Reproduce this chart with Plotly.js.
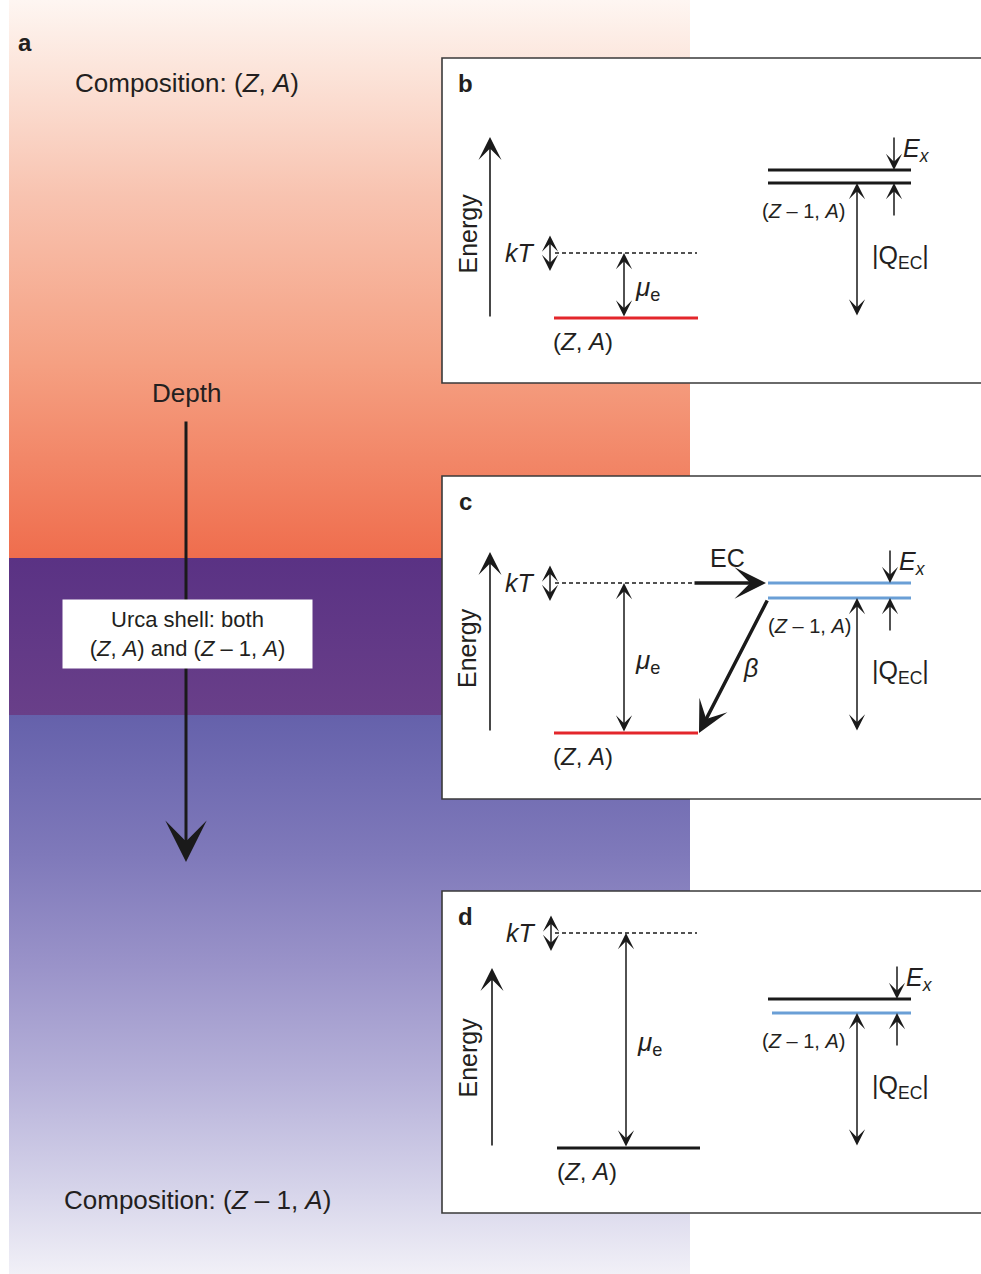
<!DOCTYPE html>
<html>
<head>
<meta charset="utf-8">
<script src="https://cdn.plot.ly/plotly-3.0.1.min.js"></script>
<style>html,body{margin:0;padding:0;background:#fff;}#chart{width:981px;height:1274px;}</style>
</head>
<body>
<div id="chart"></div>
<script>
// ---------- data (pixel-space diagram coordinates) ----------
// Left column: depth bands (top, bottom) and their gradient colours
const bandTop = [0, 558, 715];
const bandBottom = [558, 715, 1274];
const bandColors = [
  [[0, '#fef6f2'], [0.12, '#fce5db'], [0.35, '#f8c3b0'], [0.65, '#f5a082'], [1, '#ef6d4d']],
  [[0, '#5a3284'], [1, '#693f89']],
  [[0, '#6561ab'], [0.25, '#7f79ba'], [0.45, '#9a93c9'], [0.65, '#b6b1d9'], [0.85, '#d6d4ea'], [1, '#f1f0f7']]
];
const columnLeft = 9, columnRight = 690;

// Panels b, c, d
const panelLabels = ['b', 'c', 'd'];
const panelTop = [58, 476, 891];
const panelBottom = [383, 799, 1213];
const energyArrowX = [490, 490, 492];
const energyArrowBottom = [318, 732, 1147];
const energyArrowTop = [137, 552, 968];
const fermiLevel = [253, 583, 933];          // mu_e + kT dashed line
const lowerLevel = [318, 733, 1148];         // (Z, A) level
const lowerColor = ['#e3262b', '#e3262b', '#1a1a1a'];
const upperExcited = [170, 583, 999];        // (Z-1, A) excited level
const upperGround = [183, 598, 1013];        // (Z-1, A) ground level
const excitedColor = ['#1a1a1a', '#6a9fd6', '#1a1a1a'];
const groundColor = ['#1a1a1a', '#6a9fd6', '#6a9fd6'];
const kTx = [550, 550, 551];
const muX = [624, 624, 626];
const qX = [857, 857, 857];
const exX = [894, 890, 897];

const F = 'Liberation Sans, Arial, sans-serif';
const shapes = [];
const ann = [];
const traces = [];

// gradient bands
for (let i = 0; i < bandTop.length; i++) {
  traces.push({
    type: 'scatter', mode: 'none', hoverinfo: 'skip', showlegend: false,
    x: [columnLeft, columnRight, columnRight, columnLeft, columnLeft],
    y: [bandTop[i], bandTop[i], bandBottom[i], bandBottom[i], bandTop[i]],
    fill: 'toself',
    fillcolor: bandColors[i][0][1],
    fillgradient: {type: 'vertical', colorscale: bandColors[i], start: bandTop[i], stop: bandBottom[i]}
  });
}

function line(x0, y0, x1, y1, color, width, dash) {
  shapes.push({type: 'line', xref: 'x', yref: 'y', x0, y0, x1, y1, layer: 'above',
    line: {color, width, dash: dash || 'solid'}});
}
function arrow(xt, yt, xh, yh, w, size, both) {
  const a = {x: xh, y: yh, ax: xt, ay: yt, xref: 'x', yref: 'y', axref: 'x', ayref: 'y',
    text: '', showarrow: true, arrowhead: 3, arrowsize: size, arrowwidth: w, arrowcolor: '#1a1a1a',
    standoff: 0, startstandoff: 0};
  if (both) { a.arrowside = 'end+start'; a.startarrowhead = 3; a.startarrowsize = size; }
  ann.push(a);
}
function text(x, y, t, size, opts) {
  ann.push(Object.assign({x, y, xref: 'x', yref: 'y', text: t, showarrow: false,
    font: {family: F, size, color: '#231f20'}, xanchor: 'center', yanchor: 'middle'}, opts || {}));
}

// panel boxes
for (let i = 0; i < 3; i++) {
  shapes.push({type: 'rect', xref: 'x', yref: 'y', x0: 442, x1: 1000, y0: panelTop[i], y1: panelBottom[i],
    fillcolor: '#ffffff', line: {color: '#3a3a3a', width: 1.6}, layer: 'above'});
}

for (let i = 0; i < 3; i++) {
  const c = i === 1;
  // panel letter
  text(465, panelTop[i] + 25, '<b>' + panelLabels[i] + '</b>', 24);
  // energy axis
  arrow(energyArrowX[i], energyArrowBottom[i], energyArrowX[i], energyArrowTop[i], 1.6, 2.4);
  text(467, (energyArrowBottom[i] + energyArrowTop[i]) / 2 + (i === 2 ? 0 : 6), 'Energy', 25, {textangle: -90});
  // kT
  arrow(kTx[i], fermiLevel[i] - 19, kTx[i], fermiLevel[i] + 18, 1.5, 1.8, true);
  text(kTx[i] - 30, fermiLevel[i], '<i>kT</i>', 25);
  // dashed fermi line
  line(555, fermiLevel[i], c ? 693 : 697, fermiLevel[i], '#1a1a1a', 1.3, '4px,3px');
  // mu_e
  arrow(muX[i], lowerLevel[i], muX[i], fermiLevel[i], 1.5, 1.8, true);
  text(muX[i] + 23, (fermiLevel[i] + lowerLevel[i]) / 2 + 3, '<i>μ</i><sub>e</sub>', 26);
  // (Z, A) level
  line(i === 2 ? 557 : 554, lowerLevel[i], i === 2 ? 700 : 698, lowerLevel[i], lowerColor[i], 3.2);
  text(i === 2 ? 587 : 583, lowerLevel[i] + 23, '(<i>Z</i>, <i>A</i>)', 24);
  // (Z-1, A) levels
  line(768, upperExcited[i], 911, upperExcited[i], excitedColor[i], 3.2);
  line(i === 2 ? 772 : 768, upperGround[i], 911, upperGround[i], groundColor[i], 3.2);
  text(c ? 809 : 803, upperGround[i] + 28, '(<i>Z</i> – 1, <i>A</i>)', 20);
  // E_x arrows
  arrow(exX[i], upperExcited[i] - 34, exX[i], upperExcited[i], 1.5, 1.8);
  arrow(exX[i], upperGround[i] + 34, exX[i], upperGround[i], 1.5, 1.8);
  text(exX[i] + 22, upperExcited[i] - 20, '<i>E</i><sub><i>x</i></sub>', 25);
  // Q_EC
  arrow(qX[i], lowerLevel[i] - 1, qX[i], upperGround[i], 1.5, 1.8, true);
  text(qX[i] + 43, (upperGround[i] + lowerLevel[i]) / 2 + 6, '|Q<sub>EC</sub>|', 25);
}

// panel c process arrows
arrow(693, fermiLevel[1], 766, fermiLevel[1], 3.5, 1.5);
text(727, fermiLevel[1] - 25, 'EC', 25);
arrow(768, upperGround[1] + 1, 699, lowerLevel[1], 3.5, 1.5);
text(750, 668, '<i>β</i>', 25);

// left column
text(25, 42, '<b>a</b>', 24);
text(187, 83, 'Composition: (<i>Z</i>, <i>A</i>)', 26);
text(186, 393, 'Depth', 26);
arrow(186, 420, 186, 862, 3, 2.3);
ann.push({x: 187.5, y: 634, xref: 'x', yref: 'y', showarrow: false,
  text: 'Urca shell: both<br>(<i>Z</i>, <i>A</i>) and (<i>Z</i> – 1, <i>A</i>)',
  font: {family: F, size: 22, color: '#231f20'}, bgcolor: '#ffffff', width: 249, height: 68,
  xanchor: 'center', yanchor: 'middle', borderpad: 0});
text(197, 1200, 'Composition: (<i>Z</i> – 1, <i>A</i>)', 26);

const layout = {
  width: 981, height: 1274,
  margin: {l: 0, r: 0, t: 0, b: 0},
  paper_bgcolor: '#ffffff', plot_bgcolor: '#ffffff',
  xaxis: {range: [0, 981], visible: false, fixedrange: true},
  yaxis: {range: [1274, 0], visible: false, fixedrange: true},
  shapes, annotations: ann, showlegend: false
};
Plotly.newPlot('chart', traces, layout, {displayModeBar: false, staticPlot: true});
</script>
</body>
</html>
